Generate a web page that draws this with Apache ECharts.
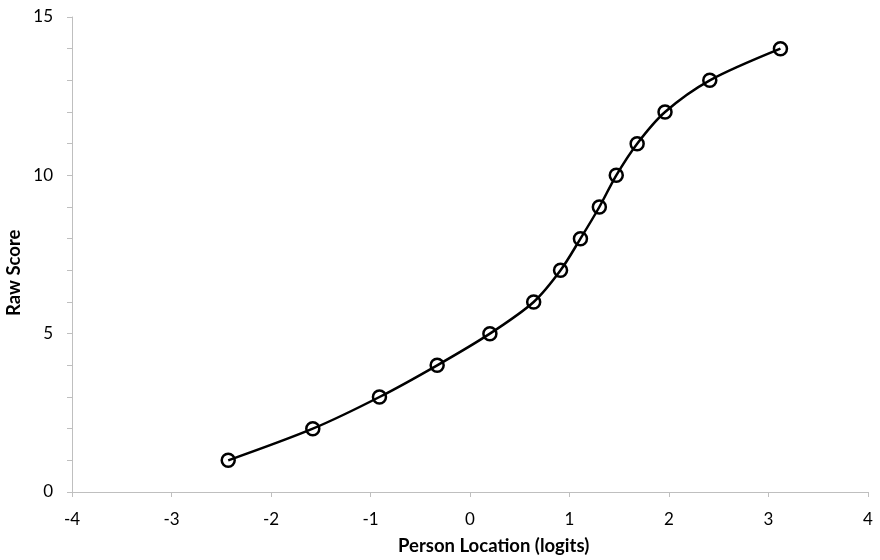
<!DOCTYPE html>
<html>
<head>
<meta charset="utf-8">
<script src="https://cdn.jsdelivr.net/npm/echarts@6/dist/echarts.min.js"></script>
<style>html,body{margin:0;padding:0;background:#fff}#c{width:880px;height:560px}</style>
</head>
<body>
<div id="c"></div>
<script>
const personLocation = [-2.43, -1.58, -0.91, -0.33, 0.20, 0.64, 0.91, 1.11, 1.30, 1.47, 1.68, 1.96, 2.41, 3.12];
const rawScore = [1, 2, 3, 4, 5, 6, 7, 8, 9, 10, 11, 12, 13, 14];
const xTitle = 'Person Location (logits)';
const yTitle = 'Raw Score';

const FONT = 'Lato, "Open Sans", sans-serif';
const chart = echarts.init(document.getElementById('c'));
const axisGrey = '#bfbfbf';
chart.setOption({
  animation: false,
  grid: { left: 72, right: 12, top: 17, bottom: 68 },
  xAxis: {
    type: 'value', min: -4, max: 4, interval: 1,
    axisLine: { show: true, onZero: false, lineStyle: { color: axisGrey, width: 1 } },
    axisTick: { show: true, length: 5, lineStyle: { color: axisGrey } },
    splitLine: { show: false },
    axisLabel: { color: '#000', fontFamily: FONT, fontSize: 17, margin: 19 }
  },
  yAxis: {
    type: 'value', min: 0, max: 15, interval: 1,
    axisLine: { show: true, onZero: false, lineStyle: { color: axisGrey, width: 1 } },
    axisTick: { show: true, length: 5, lineStyle: { color: axisGrey } },
    splitLine: { show: false },
    axisLabel: { color: '#000', fontFamily: FONT, fontSize: 17, margin: 19,
      formatter: v => (v % 5 === 0 ? String(v) : '') }
  },
  graphic: [
    { type: 'text', left: 398, top: 537,
      style: { text: xTitle, fontFamily: FONT, fontWeight: 'bold', fontSize: 18.5, fill: '#000' } },
    { type: 'text', rotation: Math.PI / 2, x: 5, y: 316,
      style: { text: yTitle, fontFamily: FONT, fontWeight: 'bold', fontSize: 18.5, fill: '#000' } }
  ],
  series: [{
    type: 'line',
    data: personLocation.map((x, i) => [x, rawScore[i]]),
    smooth: 0.3,
    symbol: 'circle', symbolSize: 13,
    lineStyle: { color: '#000', width: 2.5 },
    itemStyle: { color: 'rgba(0,0,0,0)', borderColor: '#000', borderWidth: 2.5 }
  }]
});
</script>
</body>
</html>
